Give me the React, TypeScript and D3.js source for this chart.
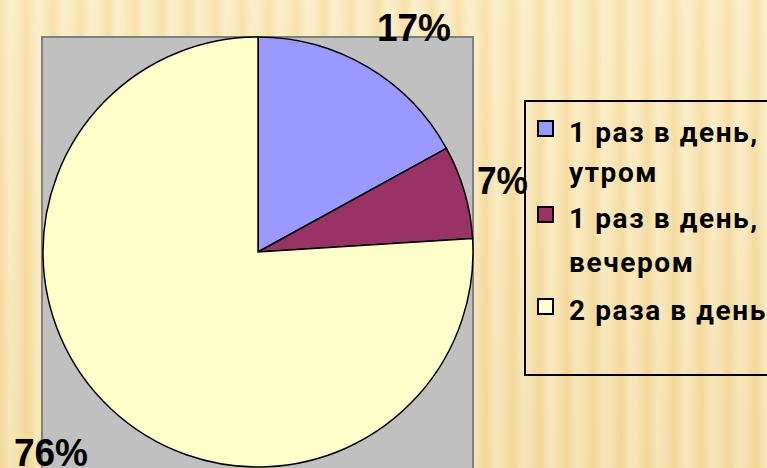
import React from 'react';
import { pie, arc } from 'd3';

// share of answers, %
const categories = ['1 раз в день, утром', '1 раз в день, вечером', '2 раза в день'];
const values = [17, 7, 76];
const legendLines = [['1 раз в день,', 'утром'], ['1 раз в день,', 'вечером'], ['2 раза в день']];
const colors = ['#9999FF', '#993366', '#FFFFCC'];
const labelText = ['17%', '7%', '76%'];

const W = 767;
const H = 468;
const cx = 258;
const cy = 252;
const r = 215;

// where each percentage label sits (left x, baseline y)
const labelPos = [
  [377, 41],
  [477, 194],
  [14, 466],
];

const App = () => {
  const slices = pie<number>().sort(null).value((d) => d)(values);
  const arcGen = arc<any>().innerRadius(0).outerRadius(r);

  const legendY = [132, 172, 218, 262, 310];
  let li = 0;

  return (
    <svg
      width={W}
      height={H}
      style={{ position: 'absolute', left: 0, top: 0, display: 'block' }}
    >
      <defs>
        <linearGradient id="stripe" x1="0" x2="1" y1="0" y2="0">
          <stop offset="0" stopColor="#F3DA9C" />
          <stop offset="0.35" stopColor="#FBEDC6" />
          <stop offset="0.6" stopColor="#F9E9BE" />
          <stop offset="1" stopColor="#F3DA9C" />
        </linearGradient>
        <pattern id="stripes" width="27" height={H} patternUnits="userSpaceOnUse">
          <rect width="27" height={H} fill="url(#stripe)" />
        </pattern>
        <linearGradient id="shade" x1="0" x2="0" y1="0" y2="1">
          <stop offset="0" stopColor="#FFF6DA" stopOpacity="0.25" />
          <stop offset="1" stopColor="#E8C880" stopOpacity="0.2" />
        </linearGradient>
      </defs>
      <rect width={W} height={H} fill="url(#stripes)" />
      <rect width={W} height={H} fill="url(#shade)" />

      {/* plot area */}
      <rect x={42} y={37} width={431} height={H} fill="#C0C0C0" stroke="#808080" strokeWidth={2} />

      <g transform={`translate(${cx},${cy})`}>
        {slices.map((s, i) => (
          <path key={categories[i]} d={arcGen(s) || ''} fill={colors[i]} stroke="#000" strokeWidth={1.5} />
        ))}
      </g>

      {labelText.map((t, i) => (
        <text
          key={t}
          x={labelPos[i][0]}
          y={labelPos[i][1]}
          fontFamily="'Liberation Sans', Arial, sans-serif"
          fontWeight="bold"
          fontSize={38}
          textLength={t.length === 2 ? 51 : 74}
          lengthAdjust="spacingAndGlyphs"
          fill="#000"
        >
          {t}
        </text>
      ))}

      {/* legend */}
      <rect x={525} y={101} width={260} height={274} fill="none" stroke="#000" strokeWidth={2} />
      {legendLines.map((lines, i) => {
        const first = li;
        li += lines.length;
        return (
          <g key={categories[i]}>
            <rect
              x={538}
              y={legendY[first] - 11}
              width={15}
              height={15}
              fill={colors[i]}
              stroke="#000"
              strokeWidth={2}
            />
            {lines.map((ln, j) => (
              <text
                key={ln}
                x={569}
                y={legendY[first + j]}
                dy="0.35em"
                fontFamily="Roboto, sans-serif"
                fontWeight="bold"
                fontSize={28}
                letterSpacing={1.6}
                fill="#000"
              >
                {ln}
              </text>
            ))}
          </g>
        );
      })}
    </svg>
  );
};

export default App;
